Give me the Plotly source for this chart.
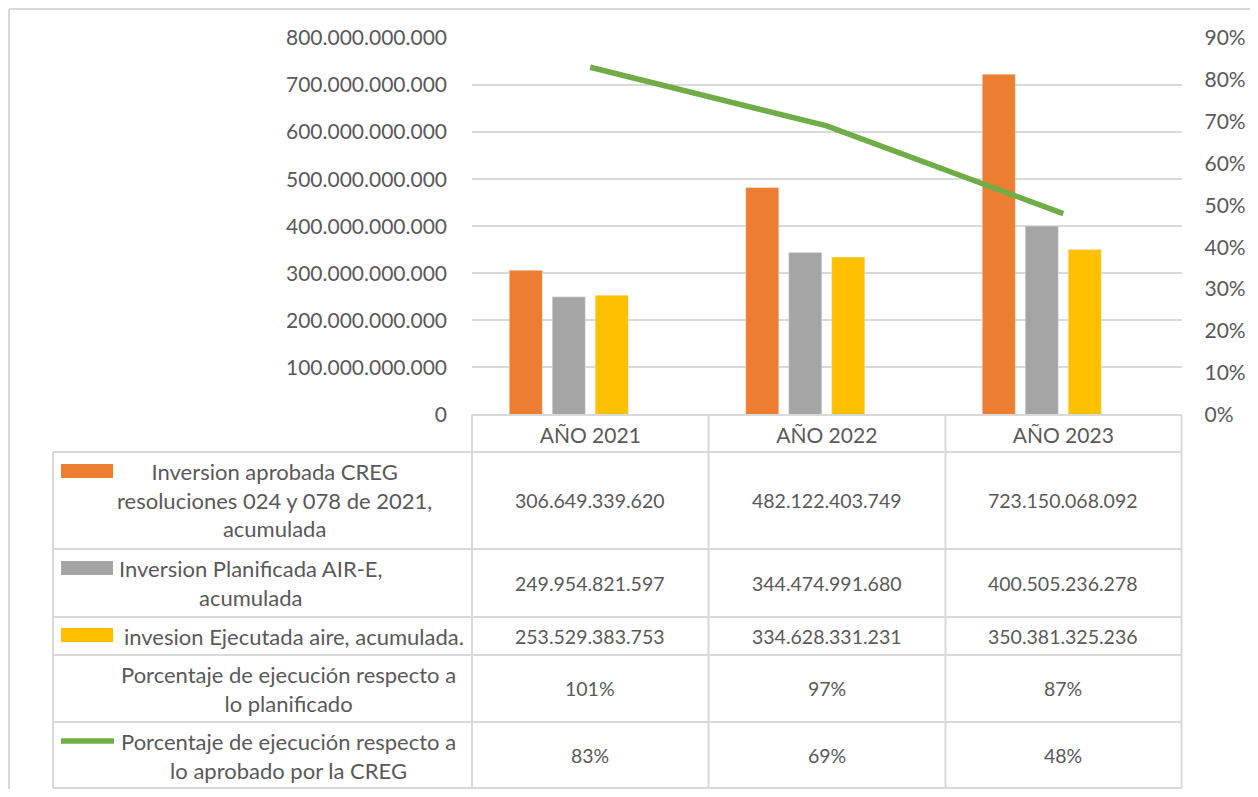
import plotly.graph_objects as go

# the page body keeps an 8px margin, so the figure covers x 8..1250, y 8..789
OFF = 8
W, H = 1242, 781

COLORS = {
    "aprobada": "#ED7D31",
    "planificada": "#A5A5A5",
    "ejecutada": "#FFC000",
    "pct_plan": "#5B9BD5",
    "linea": "#70AD47",
    "texto": "#595959",
    "grid": "#D9D9D9",
}
FONT = "Lato"

anios = ["AÑO 2021", "AÑO 2022", "AÑO 2023"]
inv_aprobada = [306649339620, 482122403749, 723150068092]
inv_planificada = [249954821597, 344474991680, 400505236278]
inv_ejecutada = [253529383753, 334628331231, 350381325236]
pct_planificado = [1.01, 0.97, 0.87]
pct_aprobado = [0.83, 0.69, 0.48]

etiquetas = [
    "Inversion aprobada CREG<br>resoluciones 024 y 078 de 2021,<br>acumulada",
    "Inversion Planificada AIR-E,<br>acumulada",
    "invesion Ejecutada aire, acumulada.",
    "Porcentaje de ejecución respecto a<br>lo planificado",
    "Porcentaje de ejecución respecto a<br>lo aprobado por la CREG",
]


def px_x(v):
    return (v - OFF) / W


def px_y(v):
    return 1 - (v - OFF) / H


def miles(v):
    return f"{v:,}".replace(",", ".")


def pct(v):
    return f"{round(v * 100)}%"


# table geometry (screen pixels)
X0, X_END = 53, 1181.5
COL_LINES = [472, 708.5, 945.5, 1181.5]
ROW_LINES = [452, 549, 617, 655, 722, 788]
PLOT_TOP, PLOT_BOTTOM = 38, 414.5

fig = go.Figure()
series = [
    (inv_aprobada, COLORS["aprobada"], etiquetas[0]),
    (inv_planificada, COLORS["planificada"], etiquetas[1]),
    (inv_ejecutada, COLORS["ejecutada"], etiquetas[2]),
    # percentage plotted on the money axis, so it is practically invisible
    (pct_planificado, COLORS["pct_plan"], etiquetas[3]),
]
for values, color, name in series:
    fig.add_trace(go.Bar(x=anios, y=values, marker_color=color, name=name))

fig.add_trace(
    go.Scatter(
        x=anios,
        y=pct_aprobado,
        yaxis="y2",
        mode="lines",
        line=dict(color=COLORS["linea"], width=5.5),
        name=etiquetas[4],
    )
)

shapes = []


def line(x0, y0, x1, y1, width=2, color=COLORS["grid"]):
    shapes.append(
        dict(
            type="line", xref="paper", yref="paper",
            x0=px_x(x0), y0=px_y(y0), x1=px_x(x1), y1=px_y(y1),
            line=dict(color=color, width=width),
        )
    )


# outer chart border
line(9, 9, W + OFF + 5, 9)
line(9, 9, 9, H + OFF + 5)

# table grid
line(COL_LINES[0], 415, X_END, 415)
for y in ROW_LINES:
    line(X0, y, X_END, y)
for x in COL_LINES:
    line(x, 415, x, ROW_LINES[-1])
line(X0, ROW_LINES[0], X0, ROW_LINES[-1])

# legend keys inside the table
for (y0, y1), color in zip(
    [(464, 478), (561, 575), (628, 642)],
    [COLORS["aprobada"], COLORS["planificada"], COLORS["ejecutada"]],
):
    shapes.append(
        dict(
            type="rect", xref="paper", yref="paper",
            x0=px_x(61), x1=px_x(113), y0=px_y(y1), y1=px_y(y0),
            fillcolor=color, line=dict(width=0),
        )
    )
line(61, 741, 114, 741, width=5.5, color=COLORS["linea"])

annotations = []
label_pos = [(274, 500), (251, 583), (294, 636), (288, 689), (288, 756)]
for text, (x, y) in zip(etiquetas, label_pos):
    annotations.append(
        dict(
            text=text, xref="paper", yref="paper", x=px_x(x), y=px_y(y),
            xanchor="center", yanchor="middle", showarrow=False, align="center",
            font=dict(family=FONT, size=22, color=COLORS["texto"]),
        )
    )

row_values = [
    [miles(v) for v in inv_aprobada],
    [miles(v) for v in inv_planificada],
    [miles(v) for v in inv_ejecutada],
    [pct(v) for v in pct_planificado],
    [pct(v) for v in pct_aprobado],
]
row_centers = [(ROW_LINES[i] + ROW_LINES[i + 1]) / 2 for i in range(5)]
for texts, yc in zip(row_values, row_centers):
    for anio, text in zip(anios, texts):
        annotations.append(
            dict(
                text=text, xref="x", yref="paper", x=anio, y=px_y(yc),
                xanchor="center", yanchor="middle", showarrow=False,
                font=dict(family=FONT, size=19.5, color=COLORS["texto"]),
            )
        )

fig.update_layout(
    width=W,
    height=H,
    margin=dict(l=0, r=0, t=0, b=0),
    paper_bgcolor="white",
    plot_bgcolor="white",
    showlegend=False,
    separators=",.",
    barmode="group",
    bargap=0.273,
    bargroupgap=0.23,
    font=dict(family=FONT, size=21, color=COLORS["texto"]),
    shapes=shapes,
    annotations=annotations,
    xaxis=dict(
        domain=[px_x(472), px_x(X_END)],
        range=[-0.5, 2.5],
        automargin=False,
        showgrid=False,
        showline=False,
        zeroline=False,
        ticks="",
        ticklabelstandoff=6,
        tickfont=dict(family=FONT, size=21, color=COLORS["texto"]),
    ),
    yaxis=dict(
        domain=[px_y(PLOT_BOTTOM), px_y(PLOT_TOP)],
        range=[0, 8e11],
        dtick=1e11,
        tickformat=",d",
        automargin=False,
        showgrid=True,
        gridcolor=COLORS["grid"],
        gridwidth=1.5,
        zeroline=False,
        showline=False,
        ticks="",
        ticklabelstandoff=24,
        tickfont=dict(family=FONT, size=21, color=COLORS["texto"]),
    ),
    yaxis2=dict(
        overlaying="y",
        side="right",
        range=[0, 0.9],
        dtick=0.1,
        tickformat=".0%",
        automargin=False,
        showgrid=False,
        zeroline=False,
        showline=False,
        ticks="",
        ticklabelstandoff=22,
        tickfont=dict(family=FONT, size=21, color=COLORS["texto"]),
    ),
)

fig.write_html("out.html")
